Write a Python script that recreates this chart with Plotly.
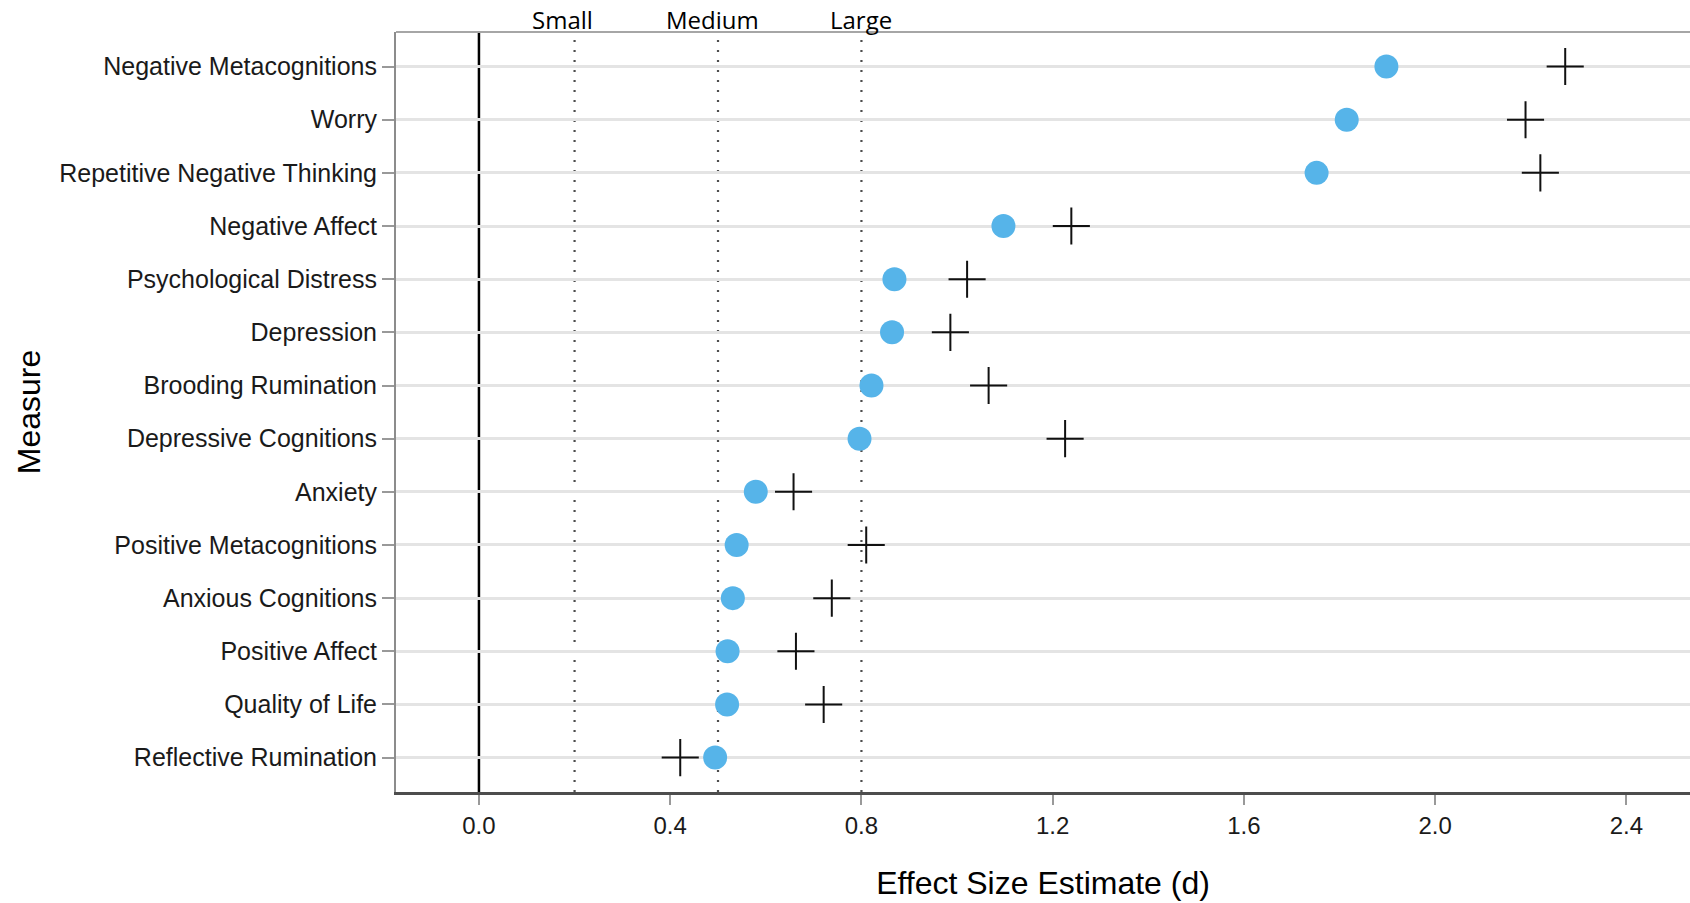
import plotly.graph_objects as go

measures = [
    "Negative Metacognitions", "Worry", "Repetitive Negative Thinking",
    "Negative Affect", "Psychological Distress", "Depression",
    "Brooding Rumination", "Depressive Cognitions", "Anxiety",
    "Positive Metacognitions", "Anxious Cognitions", "Positive Affect",
    "Quality of Life", "Reflective Rumination",
]
circle_est = [1.898, 1.815, 1.752, 1.097, 0.869, 0.864, 0.821, 0.796,
              0.579, 0.539, 0.531, 0.520, 0.519, 0.494]
cross_est = [2.272, 2.189, 2.220, 1.239, 1.021, 0.986, 1.066, 1.226,
             0.658, 0.810, 0.738, 0.663, 0.721, 0.421]

ref_values = [0.2, 0.5, 0.8]
ref_labels = ["Small", "Medium", "Large"]
x_ticks = [0.0, 0.4, 0.8, 1.2, 1.6, 2.0, 2.4]

W, H = 1690, 903
L, R, T, B = 396, 0, 32, 111

fig = go.Figure()
fig.add_trace(go.Scatter(
    x=cross_est, y=measures, mode="markers",
    marker=dict(symbol="cross-thin", size=26.5, color="black",
                line=dict(color="#111111", width=2)),
    showlegend=False,
))
fig.add_trace(go.Scatter(
    x=circle_est, y=measures, mode="markers",
    marker=dict(symbol="circle", size=24, color="#56B4E9", line=dict(width=0)),
    showlegend=False,
))

shapes = []
shapes.append(dict(type="line", xref="x", yref="paper", x0=0, x1=0, y0=0, y1=1,
                   line=dict(color="black", width=2.5), layer="between"))
for v in ref_values:
    shapes.append(dict(type="line", xref="x", yref="paper", x0=v, x1=v, y0=0, y1=1,
                       line=dict(color="#4d4d4d", width=2.2, dash="2px,8px"),
                       layer="between"))
# top border
shapes.append(dict(type="line", xref="paper", yref="paper", x0=0, x1=1, y0=1, y1=1,
                   line=dict(color="#a6a6a6", width=2), layer="above"))

shifts = [-12, -6, 0]
annotations = []
for v, lab, sh in zip(ref_values, ref_labels, shifts):
    annotations.append(dict(x=v, xref="x", y=(H - B - 19) / (H - T - B), yref="paper",
                            text=lab, showarrow=False, xshift=sh,
                            yanchor="middle", xanchor="center",
                            font=dict(family="Open Sans", size=24, color="black")))

fig.update_layout(
    width=W, height=H,
    margin=dict(l=L, r=R, t=T, b=B, pad=0),
    paper_bgcolor="white", plot_bgcolor="white",
    font=dict(family="Liberation Sans, Arial", size=25, color="#1a1a1a"),
    shapes=shapes, annotations=annotations,
    xaxis=dict(
        range=[-0.1735, 2.533], tickvals=x_ticks, tickformat=".1f",
        showgrid=False, zeroline=False,
        showline=True, linecolor="#4d4d4d", linewidth=2.5,
        ticks="outside", ticklen=10, tickwidth=1.5, tickcolor="#999999",
        tickfont=dict(size=24, color="#1a1a1a"),
        title=dict(text="Effect Size Estimate (d)", font=dict(size=32, color="black"),
                   standoff=35),
    ),
    yaxis=dict(
        categoryorder="array", categoryarray=measures,
        range=[13.647, -0.65],
        showgrid=True, gridcolor="#e4e4e4", gridwidth=2.5,
        zeroline=False,
        showline=True, linecolor="#8c8c8c", linewidth=2,
        ticks="outside", ticklen=12, tickwidth=1.5, tickcolor="#999999",
        tickfont=dict(size=25, color="#1a1a1a"),
        title=dict(text="Measure", font=dict(size=32, color="black"), standoff=9),
    ),
)

fig.write_html(
    "out.html",
    config={"displayModeBar": False},
    post_script="document.body.style.margin='0';document.body.style.overflow='hidden';",
)
